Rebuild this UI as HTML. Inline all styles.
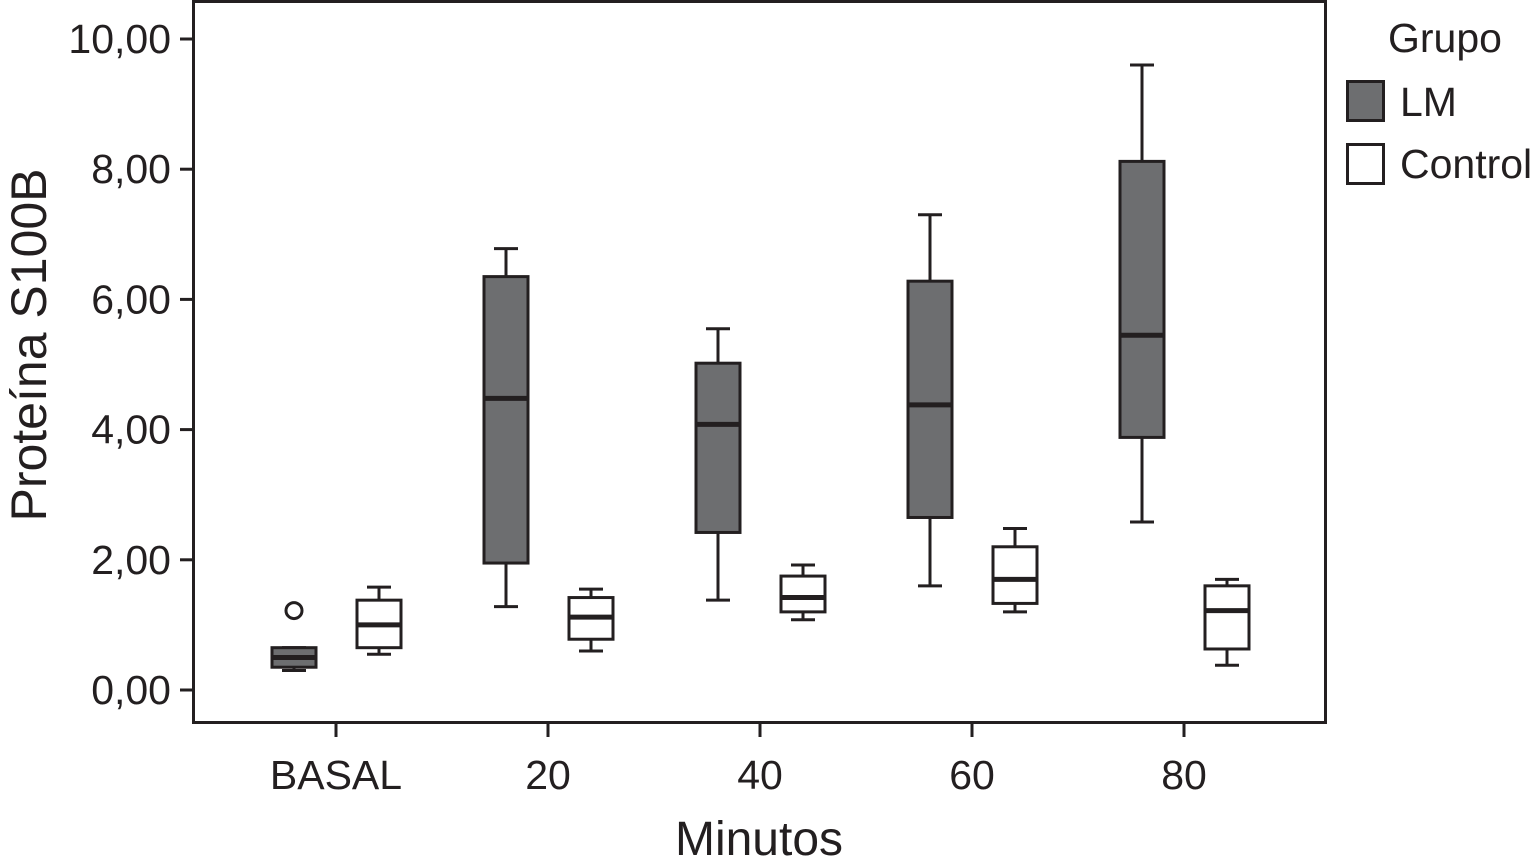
<!DOCTYPE html>
<html><head><meta charset="utf-8"><style>
html,body{margin:0;padding:0;background:#fff;}
svg{display:block;font-family:"Liberation Sans",sans-serif;}
</style></head><body>
<svg id="chart" width="1534" height="867" viewBox="0 0 1534 867">
<rect x="193.5" y="1.5" width="1132" height="721" fill="#fff" stroke="#231f20" stroke-width="3"/>
<g id="yax"></g><g id="xax"></g><g id="boxes"></g>
<text x="46" y="345" font-size="50" text-anchor="middle" transform="rotate(-90 46 345)" fill="#231f20">Proteína S100B</text>
<text x="759" y="855" font-size="48" text-anchor="middle" fill="#231f20">Minutos</text>
<g>
<text x="1388" y="52" font-size="41" fill="#231f20">Grupo</text>
<rect x="1347.5" y="81.5" width="36" height="39" fill="#6d6e70" stroke="#231f20" stroke-width="3"/>
<text x="1400" y="116" font-size="41" fill="#231f20">LM</text>
<rect x="1347.5" y="144.5" width="36" height="39" fill="#fff" stroke="#231f20" stroke-width="3"/>
<text x="1400" y="178" font-size="41" fill="#231f20">Control</text>
</g>
</svg>
<script>
const categories=["BASAL","20","40","60","80"];
const yTicks=[0,2,4,6,8,10];
const yTickLabels=["0,00","2,00","4,00","6,00","8,00","10,00"];
// [low, q1, median, q3, high]
const lmStats=[[0.3,0.35,0.5,0.65,0.65],[1.28,1.95,4.48,6.35,6.78],[1.38,2.42,4.08,5.02,5.55],[1.6,2.65,4.38,6.28,7.3],[2.58,3.88,5.45,8.12,9.6]];
const controlStats=[[0.55,0.65,1.0,1.38,1.58],[0.6,0.78,1.12,1.42,1.55],[1.08,1.2,1.42,1.75,1.92],[1.2,1.33,1.7,2.2,2.48],[0.38,0.63,1.22,1.6,1.7]];
const lmOutliers=[[0,1.22]];
const NS="http://www.w3.org/2000/svg";
function y(v){return 690-v*65.1;}
function x(i){return 336+i*212;}
function mk(tag,attrs,parent){const e=document.createElementNS(NS,tag);for(const k in attrs)e.setAttribute(k,attrs[k]);parent.appendChild(e);return e;}
const yax=document.getElementById('yax'),xax=document.getElementById('xax'),bx=document.getElementById('boxes');
yTicks.forEach((t,i)=>{
 const l=mk('line',{x1:180,x2:193,y1:y(t),y2:y(t),stroke:'#231f20','stroke-width':3},yax);
 
 
 const tx=mk('text',{x:171,y:y(t)+14,'font-size':41,'text-anchor':'end',fill:'#231f20'},yax);
 tx.textContent=yTickLabels[i];
 
 
});
categories.forEach((c,i)=>{
 const l=mk('line',{x1:x(i),x2:x(i),y1:723,y2:737,stroke:'#231f20','stroke-width':3},xax);
 
 
 const tx=mk('text',{x:x(i),y:789,'font-size':41,'text-anchor':'middle',fill:'#231f20'},xax);
 tx.textContent=c;
 
 
});
function drawBox(s,cx,fill,name){
 const g=mk('g',{},bx);
 
 
 const st={stroke:'#231f20','stroke-width':3};
 mk('line',Object.assign({x1:cx,x2:cx,y1:y(s[0]),y2:y(s[1])},st),g);
 mk('line',Object.assign({x1:cx,x2:cx,y1:y(s[3]),y2:y(s[4])},st),g);
 mk('line',Object.assign({x1:cx-12,x2:cx+12,y1:y(s[0]),y2:y(s[0])},st),g);
 mk('line',Object.assign({x1:cx-12,x2:cx+12,y1:y(s[4]),y2:y(s[4])},st),g);
 mk('rect',Object.assign({x:cx-22,y:y(s[3]),width:44,height:y(s[1])-y(s[3]),fill:fill},st),g);
 mk('line',{x1:cx-22,x2:cx+22,y1:y(s[2]),y2:y(s[2]),stroke:'#231f20','stroke-width':5},g);
}
lmStats.forEach((s,i)=>drawBox(s,x(i)-42,'#6d6e70','box-lm-'+categories[i].toLowerCase()));
controlStats.forEach((s,i)=>drawBox(s,x(i)+43,'#fff','box-control-'+categories[i].toLowerCase()));
lmOutliers.forEach(o=>{
 const c=mk('circle',{cx:x(o[0])-42,cy:y(o[1]),r:8,fill:'#fff',stroke:'#231f20','stroke-width':3},bx);
 
 
});
</script>
</body></html>
